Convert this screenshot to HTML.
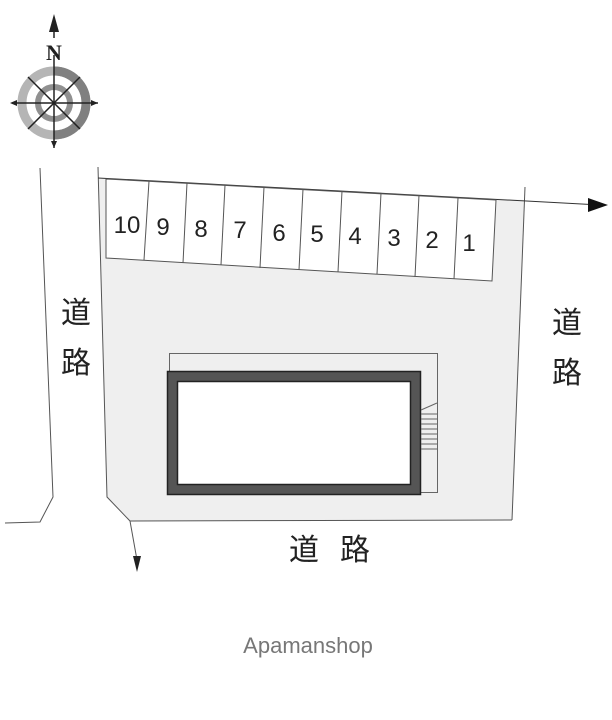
<!DOCTYPE html>
<html><head><style>body{margin:0;background:#fff}svg{display:block}</style></head><body>
<svg width="612" height="720" viewBox="0 0 612 720" xmlns="http://www.w3.org/2000/svg" font-family="Liberation Sans, Noto Sans CJK JP, sans-serif">
<g>
<circle cx="54" cy="103" r="32" fill="none" stroke="#b5b5b5" stroke-width="9"/>
<path d="M54 71 A32 32 0 0 1 86 103 A32 32 0 0 1 54 135" fill="none" stroke="#808080" stroke-width="9"/>
<circle cx="54" cy="103" r="16" fill="none" stroke="#909090" stroke-width="6"/>
<line x1="54" y1="55" x2="54" y2="148" stroke="#222" stroke-width="1.5"/>
<line x1="12" y1="103" x2="98" y2="103" stroke="#222" stroke-width="1.5"/>
<line x1="28" y1="77" x2="80" y2="129" stroke="#222" stroke-width="1.5"/>
<line x1="28" y1="129" x2="80" y2="77" stroke="#222" stroke-width="1.5"/>
<polygon points="54,14 49,32 59,32" fill="#222"/>
<line x1="54" y1="30" x2="54" y2="38" stroke="#222" stroke-width="1.5"/>
<text x="54" y="60" font-family="Liberation Serif, serif" font-weight="bold" font-size="22" text-anchor="middle" fill="#222">N</text>
<polygon points="10,103 17,100 17,106" fill="#222"/>
<polygon points="98,103 91,100 91,106" fill="#222"/>
<polygon points="54,148 51,141 57,141" fill="#222"/>
</g>
<polygon points="98,178 525,200 512,520 130,521 107,497" fill="#efefef"/>
<polyline points="98,167 107,497 130,521 137,560" fill="none" stroke="#555" stroke-width="1"/>
<polygon points="137,572 133,556 141,556" fill="#222"/>
<line x1="130" y1="521" x2="512" y2="520" stroke="#555"/>
<line x1="525" y1="187" x2="512" y2="520" stroke="#555"/>
<line x1="98" y1="178" x2="600" y2="205" stroke="#333"/>
<polygon points="608,205 588,198 588,212" fill="#111"/>
<polygon points="106,179 496,200 492,281 106,258" fill="#fff" stroke="#555"/>
<g stroke="#555">
<line x1="149" y1="181" x2="144" y2="260"/><line x1="187" y1="183" x2="183" y2="263"/>
<line x1="225" y1="185" x2="221" y2="265"/><line x1="264" y1="187" x2="260" y2="268"/>
<line x1="303" y1="189" x2="299" y2="270"/><line x1="342" y1="191" x2="338" y2="272"/>
<line x1="381" y1="193" x2="377" y2="274"/><line x1="419" y1="195" x2="415" y2="277"/>
<line x1="458" y1="198" x2="454" y2="279"/>
</g>
<g font-size="24" fill="#222" text-anchor="middle">
<text x="127" y="233">10</text><text x="163" y="235">9</text><text x="201" y="237">8</text>
<text x="240" y="238">7</text><text x="279" y="241">6</text><text x="317" y="242">5</text>
<text x="355" y="244">4</text><text x="394" y="246">3</text><text x="432" y="248">2</text><text x="469" y="251">1</text>
</g>
<rect x="169.5" y="353.5" width="268" height="139" fill="none" stroke="#666"/>
<rect x="172" y="376" width="244" height="114" fill="#fff" stroke="#555" stroke-width="10"/>
<rect x="167.5" y="371.5" width="253" height="123" fill="none" stroke="#222" stroke-width="1.5"/>
<rect x="177.5" y="381.5" width="233" height="103" fill="none" stroke="#222" stroke-width="1.5"/>
<g stroke="#666">
<line x1="421" y1="410" x2="437" y2="403"/>
<line x1="421" y1="414" x2="437" y2="414"/><line x1="421" y1="419" x2="437" y2="419"/>
<line x1="421" y1="424" x2="437" y2="424"/><line x1="421" y1="429" x2="437" y2="429"/>
<line x1="421" y1="434" x2="437" y2="434"/><line x1="421" y1="439" x2="437" y2="439"/>
<line x1="421" y1="444" x2="437" y2="444"/><line x1="421" y1="449" x2="437" y2="449"/>
</g>
<polyline points="40,168 53,497 40,522 5,523" fill="none" stroke="#555"/>
<g font-size="30" fill="#222" text-anchor="middle">
<text x="76" y="323">道</text><text x="76" y="373">路</text>
<text x="567" y="333">道</text><text x="567" y="383">路</text>
<text x="304" y="560">道</text><text x="355" y="560">路</text>
</g>
<text x="308" y="653" font-size="22" fill="#777" text-anchor="middle">Apamanshop</text>
</svg>
</body></html>
